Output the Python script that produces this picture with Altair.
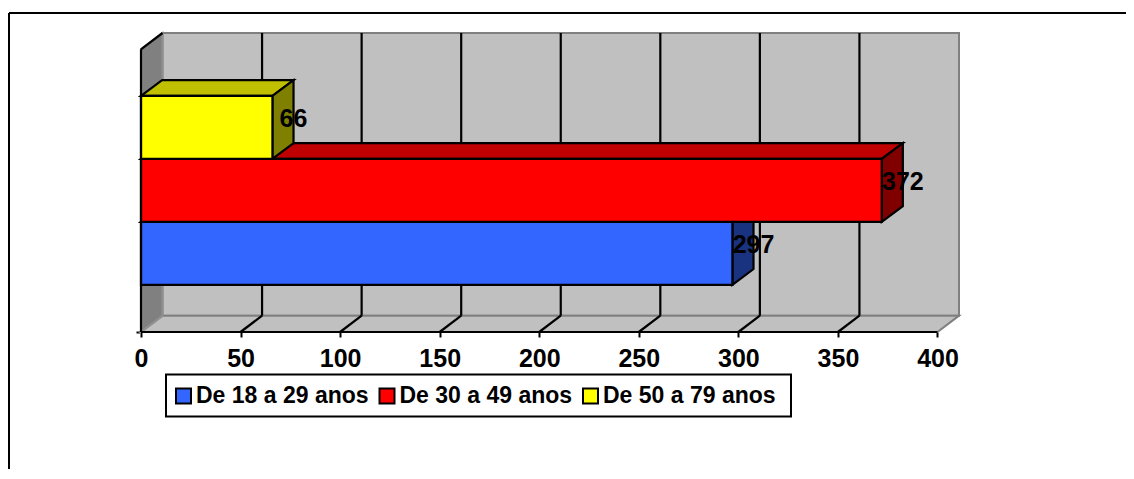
import altair as alt
import pandas as pd

series = ["De 18 a 29 anos", "De 30 a 49 anos", "De 50 a 79 anos"]
values = [297, 372, 66]
band_low = [0.75, 1.75, 2.75]
front_colors = ["#3366FF", "#FF0000", "#FFFF00"]
top_colors = ["#1A3380", "#C00000", "#C0C000"]
side_colors = ["#1A3380", "#800000", "#808000"]
ticks = [0, 50, 100, 150, 200, 250, 300, 350, 400]

XMAX = 400
WALL_DX, WALL_DY = 10.8, 0.26
BAR_DX, BAR_DY = 10.6, 0.25
FRONT_TOP = 4.49
FONT = "Liberation Sans"
FS = 25
FS_LEGEND = 23
SW = 2.2

x_scale = alt.Scale(domain=[0, XMAX + WALL_DX], nice=False, zero=False)
y_scale = alt.Scale(domain=[0, FRONT_TOP + WALL_DY], nice=False, zero=False)
x_axis = alt.Axis(title=None, values=ticks, grid=False, domain=False, tickColor="black", tickWidth=2,
                  tickSize=5, labelFont=FONT, labelFontWeight="bold", labelFontSize=FS,
                  labelColor="black", labelPadding=9, labelFlush=False, labelOverlap=False)
y_axis = alt.Axis(title=None, values=[0], grid=False, domain=False, tickColor="black", tickWidth=2,
                  tickSize=5, labels=False)
X = alt.X("x:Q", scale=x_scale, axis=x_axis)
Y = alt.Y("y:Q", scale=y_scale, axis=y_axis)


def vface(rows, **style):
    """Face with vertical edges: x, y, y2."""
    return alt.Chart(pd.DataFrame(rows, columns=["x", "y", "y2"])).mark_area(**style).encode(
        x=X, y=Y, y2="y2:Q")


def hface(rows, **style):
    """Face with horizontal edges: y, x, x2."""
    return alt.Chart(pd.DataFrame(rows, columns=["y", "x", "x2"])).mark_area(orient="horizontal", **style).encode(
        y=Y, x=X, x2="x2:Q")


def seg(rows, color="black", width=SW):
    df = pd.DataFrame(rows, columns=["id", "x", "y"])
    return alt.Chart(df).mark_line(color=color, strokeWidth=width, interpolate="linear").encode(
        x=X, y=Y, detail="id:N", order="x:Q")


layers = []

# back wall
wall = pd.DataFrame([{"x": WALL_DX, "x2": XMAX + WALL_DX, "y": WALL_DY, "y2": FRONT_TOP + WALL_DY}])
layers.append(alt.Chart(wall).mark_rect(fill="#C0C0C0", stroke="#808080", strokeWidth=2).encode(
    x=X, x2="x2:Q", y=Y, y2="y2:Q"))
# floor
layers.append(hface([(0, 0, XMAX), (WALL_DY, WALL_DX, XMAX + WALL_DX)],
                    fill="#C0C0C0", stroke="#808080", strokeWidth=2))
# left wall
layers.append(vface([(0, 0, FRONT_TOP), (WALL_DX, WALL_DY, FRONT_TOP + WALL_DY)],
                    fill="#808080", stroke="#909090", strokeWidth=2))
# gridlines on wall and floor
grid = [t for t in ticks if 0 < t < XMAX]
wall_grid = pd.DataFrame({"x": [t + WALL_DX for t in grid], "y": WALL_DY, "y2": FRONT_TOP + WALL_DY})
layers.append(alt.Chart(wall_grid).mark_rule(color="black", strokeWidth=SW).encode(x=X, y=Y, y2="y2:Q"))
floor_rows = []
for t in grid:
    floor_rows += [(t, t, 0), (t, t + WALL_DX, WALL_DY)]
layers.append(seg(floor_rows))
# front edges
layers.append(seg([("a", 0, 0), ("a", XMAX, 0)]))
layers.append(seg([("t", 0, FRONT_TOP), ("t", WALL_DX, FRONT_TOP + WALL_DY)]))

# bar tops and sides
for v, lo, tc, sc in zip(values, band_low, top_colors, side_colors):
    hi = lo + 1
    layers.append(hface([(hi, 0, v), (hi + BAR_DY, BAR_DX, v + BAR_DX)],
                        fill=tc, stroke="black", strokeWidth=SW))
    layers.append(vface([(v, lo, hi), (v + BAR_DX, lo + BAR_DY, hi + BAR_DY)],
                        fill=sc, stroke="black", strokeWidth=SW))

# bar fronts with legend
front = pd.DataFrame({"serie": series, "x": 0, "x2": values, "y": band_low,
                      "y2": [b + 1 for b in band_low]})
layers.append(alt.Chart(front).mark_rect(stroke="black", strokeWidth=SW).encode(
    x=X, x2="x2:Q", y=Y, y2="y2:Q",
    color=alt.Color("serie:N", scale=alt.Scale(domain=series, range=front_colors),
                    legend=alt.Legend(title=None, orient="none", legendX=25, legendY=342,
                                      direction="horizontal", columns=3, symbolType="square",
                                      symbolSize=225, symbolStrokeColor="black", symbolStrokeWidth=2,
                                      labelFont=FONT, labelFontWeight="bold", labelFontSize=FS_LEGEND,
                                      labelColor="black", labelOffset=1, columnPadding=6.5,
                                      padding=6, clipHeight=30, labelLimit=300))))

# left edge on top of the bars
layers.append(alt.Chart(pd.DataFrame({"x": [0], "y": [0], "y2": [FRONT_TOP]})).mark_rule(
    color="black", strokeWidth=SW).encode(x=X, y=Y, y2="y2:Q"))

# value labels
labels = pd.DataFrame({"x": [v + BAR_DX for v in values],
                       "y": [b + 0.5 + BAR_DY / 2 + 0.01 for b in band_low],
                       "t": [str(v) for v in values]})
layers.append(alt.Chart(labels).mark_text(font=FONT, fontWeight="bold", fontSize=FS, color="black",
                                          align="center", baseline="middle").encode(x=X, y=Y, text="t:N"))

# legend frame
layers.append(alt.Chart(pd.DataFrame({"a": [0]})).mark_rect(filled=False, stroke="black", strokeWidth=2).encode(
    x=alt.value(25), x2=alt.value(650), y=alt.value(341.5), y2=alt.value(383.5)))

# outer frame
layers.append(alt.Chart(pd.DataFrame({"a": [0]})).mark_rule(color="black", strokeWidth=2).encode(
    x=alt.value(-132), y=alt.value(-20), y2=alt.value(460)))
layers.append(alt.Chart(pd.DataFrame({"a": [0]})).mark_rule(color="black", strokeWidth=2).encode(
    x=alt.value(-132), x2=alt.value(1000), y=alt.value(-20)))

chart = alt.layer(*layers).properties(
    width=818, height=299,
    autosize=alt.AutoSizeParams(type="none"),
    padding={"left": 133, "top": 25, "right": 167, "bottom": 137},
).configure_view(stroke=None)

chart.save("out.html", embed_options={"renderer": "svg", "actions": False})
